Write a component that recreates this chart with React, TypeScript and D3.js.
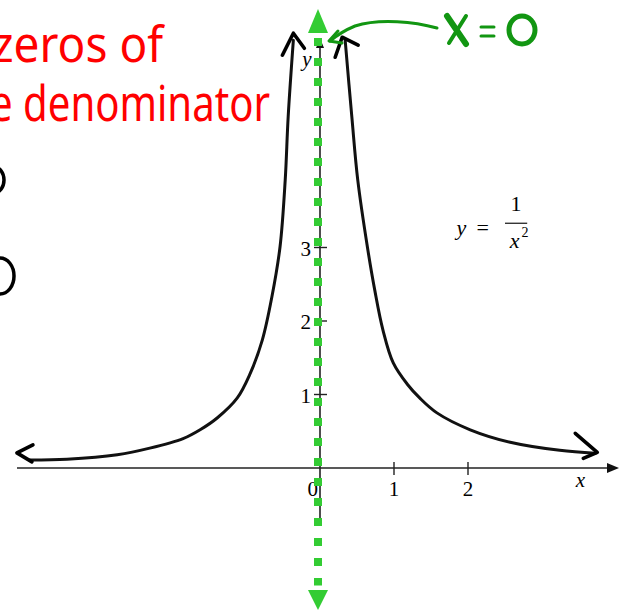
import React from 'react';
import * as d3 from 'd3';

const leftX = [-3.92, -3.42, -2.74, -2.3, -1.85, -1.62, -1.39, -1.12, -0.95, -0.78, -0.65, -0.54, -0.47, -0.43, -0.36];
const leftY = [0.11, 0.12, 0.18, 0.27, 0.4, 0.52, 0.68, 0.95, 1.27, 1.74, 2.33, 3.01, 3.92, 4.78, 5.82];
const rightX = [0.34, 0.43, 0.51, 0.64, 0.74, 0.85, 0.99, 1.18, 1.35, 1.58, 2.03, 2.57, 3.24, 3.72];
const rightY = [5.82, 4.78, 3.92, 3.01, 2.42, 1.88, 1.43, 1.14, 0.95, 0.75, 0.52, 0.35, 0.24, 0.2];

const xTicks = [1, 2];
const yTicks = [1, 2, 3];

const W = 619;
const H = 612;

const x = d3.scaleLinear().domain([-4, 4]).range([24, 616]);
const y = d3.scaleLinear().domain([0, 6]).range([468, 27]);

const line = d3
  .line<[number, number]>()
  .x(d => x(d[0]))
  .y(d => y(d[1]))
  .curve(d3.curveCatmullRom.alpha(0.5));

const left = leftX.map((v, i) => [v, leftY[i]] as [number, number]);
const right = rightX.map((v, i) => [v, rightY[i]] as [number, number]);

const serif = '"Liberation Serif", "DejaVu Serif", serif';

export default function App() {
  const x0 = x(0);
  const y0 = y(0);
  const lTop = [x(leftX[leftX.length - 1]), y(leftY[leftY.length - 1])];
  const rTop = [x(rightX[0]), y(rightY[0])];
  const lEnd = [x(leftX[0]), y(leftY[0])];
  const rEnd = [x(rightX[rightX.length - 1]), y(rightY[rightY.length - 1])];
  const green = '#33cc33';
  const dark = '#129612';

  return (
    <svg
      width={W}
      height={H}
      style={{ position: 'absolute', left: 0, top: 0, background: '#fff' }}
    >
      {/* axes */}
      <line x1={17} x2={610} y1={y0} y2={y0} stroke="#222" strokeWidth={1.6} />
      <path d={`M${W},${y0} L${W - 12},${y0 - 5} L${W - 12},${y0 + 5} Z`} fill="#111" />
      <line x1={x0} x2={x0} y1={42} y2={y(-0.73)} stroke="#222" strokeWidth={1.6} />
      <path d={`M${x0},${38} L${x0 - 4},${48} L${x0 + 4},${48} Z`} fill="#111" />

      {xTicks.map(t => (
        <g key={t}>
          <line x1={x(t)} x2={x(t)} y1={y0 - 6} y2={y0 + 7} stroke="#222" strokeWidth={1.4} />
          <text x={x(t)} y={y0 + 28} textAnchor="middle" fontFamily={serif} fontSize={21}>
            {t}
          </text>
        </g>
      ))}
      <text x={x0 - 2} y={y0 + 28} textAnchor="end" fontFamily={serif} fontSize={21}>
        0
      </text>
      {yTicks.map(t => (
        <g key={t}>
          <line x1={x0 - 6} x2={x0 + 7} y1={y(t)} y2={y(t)} stroke="#222" strokeWidth={1.4} />
          <text x={x0 - 9} y={y(t) + 8} textAnchor="end" fontFamily={serif} fontSize={21}>
            {t}
          </text>
        </g>
      ))}
      <text x={x(3.52)} y={y0 + 19} textAnchor="middle" fontFamily={serif} fontStyle="italic" fontSize={21}>
        x
      </text>
      <text x={x0 - 13} y={y(5.5) + 2} textAnchor="middle" fontFamily={serif} fontStyle="italic" fontSize={21}>
        y
      </text>

      {/* equation */}
      <g fontFamily={serif} fontSize={22}>
        <text x={x(1.91)} y={y(3.24) + 5} textAnchor="middle" fontStyle="italic">y</text>
        <text x={x(2.2)} y={y(3.24) + 5} textAnchor="middle">=</text>
        <text x={x(2.65)} y={y(3.5)} textAnchor="middle">1</text>
        <line x1={x(2.5)} x2={x(2.8)} y1={y(3.33)} y2={y(3.33)} stroke="#111" strokeWidth={1.2} />
        <text x={x(2.63)} y={y(3.0)} textAnchor="middle" fontStyle="italic">x</text>
        <text x={x(2.77)} y={y(3.14)} textAnchor="middle" fontSize={14}>2</text>
      </g>

      {/* curve */}
      <g fill="none" stroke="#111" strokeWidth={3} strokeLinecap="round">
        <path d={line(left) ?? ''} />
        <path d={line(right) ?? ''} />
      </g>

      {/* hand-drawn arrowheads */}
      <g fill="none" stroke="#000" strokeWidth={3.6} strokeLinecap="round" strokeLinejoin="round">
        <path d={`M${lTop[0] - 11},${lTop[1] + 15} L${lTop[0]},${lTop[1] - 7} L${lTop[0] + 11},${lTop[1] + 8}`} />
        <path d={`M${rTop[0] - 10},${rTop[1] + 17} L${rTop[0] - 3},${rTop[1] - 3} L${rTop[0] + 13},${rTop[1] + 5}`} />
        <path d={`M${lEnd[0] + 3},${lEnd[1] - 15} L${lEnd[0] - 13},${lEnd[1] - 7} L${lEnd[0] + 2},${lEnd[1] + 2}`} />
        <path d={`M${rEnd[0] - 20},${rEnd[1] - 20} L${rEnd[0] + 2},${rEnd[1] - 1} L${rEnd[0] - 12},${rEnd[1] + 5}`} />
      </g>

      {/* green x = 0 line */}
      <line
        x1={x0 - 2}
        x2={x0 - 2}
        y1={y(5.85)}
        y2={y(-1.6)}
        stroke={green}
        strokeWidth={8}
        strokeDasharray="8 12"
      />
      <path d={`M${x0 - 2},${9} L${x0 - 12},${33} L${x0 + 8},${33} Z`} fill={green} />
      <path d={`M${x0 - 2},${H - 2} L${x0 - 12},${590} L${x0 + 8},${590} Z`} fill={green} />

      {/* green annotation */}
      <g fill="none" stroke={dark} strokeWidth={3} strokeLinecap="round" strokeLinejoin="round">
        <path d={`M437,28 C415,22 380,18 355,26 C343,31 336,36 330,41`} />
        <path d={`M338,31 L329,41 L342,43`} />
      </g>
      <g fill="none" stroke={dark} strokeLinecap="round">
        <path d="M447,16 L466,44" strokeWidth={6} />
        <path d="M466,16 L449,43" strokeWidth={4} />
        <path d="M481,27 L494,27 M481,36 L494,36" strokeWidth={3} />
        <ellipse cx={522} cy={30} rx={13} ry={14} strokeWidth={5} />
      </g>

      {/* red handwriting */}
      <g fill="#f00" fontFamily='"Noto Sans", "DejaVu Sans", sans-serif'>
        <text x={-8} y={62} fontSize={50} textLength={171} lengthAdjust="spacingAndGlyphs">zeros of</text>
        <text x={-10} y={121} fontSize={50} textLength={280} lengthAdjust="spacingAndGlyphs">e denominator</text>
      </g>

      {/* black marks at the left edge */}
      <g fill="none" stroke="#000" strokeWidth={3.5}>
        <ellipse cx={-6} cy={180} rx={10} ry={13} />
        <ellipse cx={0} cy={276} rx={14} ry={18} />
      </g>
    </svg>
  );
}
